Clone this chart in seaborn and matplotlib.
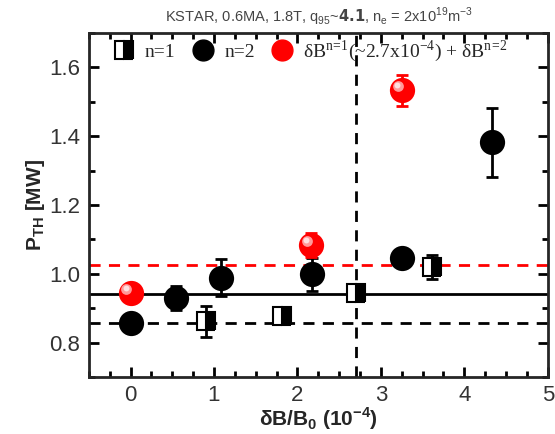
import matplotlib.pyplot as plt
import pandas as pd
import seaborn as sns
from matplotlib.ticker import MultipleLocator

# n=1 (half filled squares)
n1_x = [0.90, 1.81, 2.70, 3.61]
n1_p = [0.862, 0.878, 0.944, 1.021]
n1_err = [0.045, 0.015, 0.015, 0.035]

# n=2 (black circles)
n2_x = [0.0, 0.55, 1.09, 2.17, 3.25, 4.33]
n2_p = [0.858, 0.929, 0.989, 0.999, 1.047, 1.382]
n2_err = [0.02, 0.035, 0.053, 0.048, 0.02, 0.10]

# dB(n=1, 2.7e-4) + dB(n=2) (red)
mix_x = [0.0, 2.16, 3.25]
mix_p = [0.944, 1.084, 1.533]
mix_err = [0.015, 0.035, 0.045]

level_n1 = 0.857
level_n2 = 0.942
level_mix = 1.026
db_n1_fixed = 2.7

TITLE = (r"KSTAR, 0.6MA, 1.8T, q$_\mathregular{95}$~$\mathbf{4.1}$, "
         r"n$_\mathregular{e}$ = 2x10$^\mathregular{19}$m$^\mathregular{-3}$")
LEGEND_LABELS = ["n=1", "n=2",
                 r"δB$^\mathregular{n\!=\!1}$(~2.7x10$^\mathregular{-4}$) + δB$^\mathregular{n\!=\!2}$"]


def main():
    sns.set_theme(style="ticks")
    plt.rcParams["font.family"] = ["Liberation Sans", "DejaVu Sans"]
    plt.rcParams["axes.linewidth"] = 2

    n2 = pd.DataFrame({"x": n2_x, "p": n2_p})
    mix = pd.DataFrame({"x": mix_x, "p": mix_p})

    fig = plt.figure(figsize=(5.55, 4.34), dpi=100)
    ax = fig.add_axes([0.160, 0.131, 0.827, 0.793])

    ax.axhline(level_n2, color="black", lw=2, zorder=1)
    ax.axhline(level_n1, color="black", lw=2, ls=(0, (4, 3)), zorder=1)
    ax.axhline(level_mix, color="red", lw=2, ls=(0, (4, 3)), zorder=1)
    ax.axvline(db_n1_fixed, color="black", lw=2, ls=(0, (4, 3)), zorder=1)

    # error bars
    ax.errorbar(n1_x, n1_p, yerr=n1_err, fmt="none", ecolor="black", elinewidth=2, capsize=4, capthick=2, zorder=2)
    ax.errorbar(n2_x, n2_p, yerr=n2_err, fmt="none", ecolor="black", elinewidth=2, capsize=4, capthick=2, zorder=2)
    ax.errorbar(mix_x, mix_p, yerr=mix_err, fmt="none", ecolor="red", elinewidth=2, capsize=4, capthick=2, zorder=2)

    h1, = ax.plot(n1_x, n1_p, ls="none", marker="s", ms=13, fillstyle="right",
                  markerfacecolor="black", markerfacecoloralt="white",
                  markeredgecolor="black", markeredgewidth=1.5, zorder=3)
    sns.scatterplot(data=n2, x="x", y="p", ax=ax, s=330, color="black",
                    edgecolor="black", linewidth=0, zorder=3, legend=False)
    sns.scatterplot(data=mix, x="x", y="p", ax=ax, s=330, color="red",
                    edgecolor="red", linewidth=0, zorder=4, legend=False)
    # highlight on the red spheres
    ax.scatter([x - 0.05 for x in mix_x], [p + 0.012 for p in mix_p], s=60,
               color="#ff9a9a", linewidth=0, zorder=5)
    ax.scatter([x - 0.06 for x in mix_x], [p + 0.015 for p in mix_p], s=18,
               color="#ffe0e0", linewidth=0, zorder=6)

    h2, = ax.plot([], [], ls="none", marker="o", ms=15, color="black")
    h3, = ax.plot([], [], ls="none", marker="o", ms=15, color="red")
    ax.legend([h1, h2, h3], LEGEND_LABELS,
              ncol=3, loc="upper left", bbox_to_anchor=(0.025, 1.025), frameon=False,
              prop={"family": "Liberation Serif", "size": 14}, handletextpad=0.6,
              columnspacing=0.9, handlelength=1.0, borderaxespad=0.3)

    ax.set_xlim(-0.5, 5)
    ax.set_ylim(0.7, 1.7)
    ax.xaxis.set_major_locator(MultipleLocator(1))
    ax.xaxis.set_minor_locator(MultipleLocator(0.25))
    ax.yaxis.set_major_locator(MultipleLocator(0.2))
    ax.yaxis.set_minor_locator(MultipleLocator(0.1))
    ax.yaxis.set_major_formatter(plt.FormatStrFormatter("%.1f"))
    ax.tick_params(which="both", direction="in", top=True, right=True, width=2, colors="black")
    ax.tick_params(which="major", length=7, labelsize=16, labelcolor="#333333", pad=6)
    ax.tick_params(which="minor", length=4)
    ax.set_yticks([0.8, 1.0, 1.2, 1.4, 1.6])

    ax.set_xlabel(r"δB/B$_\mathregular{0}$ (10$^\mathregular{-4}$)", fontsize=15, fontweight="bold", labelpad=-1)
    ax.set_ylabel(r"P$_\mathregular{TH}$ [MW]", fontsize=15, fontweight="bold", labelpad=2)
    fig.text(0.575, 0.962, TITLE, ha="center", va="center", fontsize=10.5, color="#444444")

    fig.savefig("out.png", dpi=100)


if __name__ == "__main__":
    main()
